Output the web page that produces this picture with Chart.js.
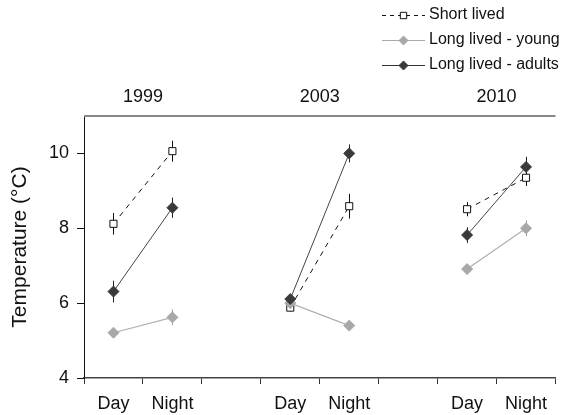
<!DOCTYPE html>
<html>
<head>
<meta charset="utf-8">
<script src="https://cdn.jsdelivr.net/npm/chart.js@4/dist/chart.umd.min.js"></script>
<style>
  html, body { margin: 0; padding: 0; background: #fff; }
  #wrap { width: 562px; height: 415px; }
</style>
</head>
<body>
<div id="wrap"><canvas id="c"></canvas></div>
<script>
// ---- data ----
const labels = ['Day', 'Night', '', 'Day', 'Night', '', 'Day', 'Night'];
const years = ['1999', '2003', '2010'];
const yTicks = [4, 6, 8, 10];

const shortLived = [8.12, 10.06, null, 5.88, 8.59, null, 8.51, 9.35];
const shortErr   = [0.29, 0.28, null, 0.10, 0.33, null, 0.19, 0.22];
const youngLived = [5.21, 5.62, null, 6.00, 5.40, null, 6.91, 8.00];
const youngErr   = [0.08, 0.21, null, 0.08, 0.08, null, 0.08, 0.21];
const adultLived = [6.31, 8.55, null, 6.11, 10.00, null, 7.82, 9.64];
const adultErr   = [0.29, 0.27, null, 0.12, 0.24, null, 0.21, 0.27];

const FONT = "'Liberation Sans', Arial, sans-serif";
Chart.defaults.font.family = FONT;
Chart.defaults.color = '#111';

// error bars, drawn under the markers
const errorBars = {
  id: 'errorBars',
  beforeDatasetsDraw(chart) {
    const { ctx, scales: { x, y } } = chart;
    ctx.save();
    chart.data.datasets.forEach((ds) => {
      ctx.strokeStyle = ds.errColor;
      ctx.lineWidth = 1;
      ds.data.forEach((v, i) => {
        if (v == null) return;
        const e = ds.err[i];
        const px = Math.round(x.getPixelForValue(i)) + 0.5;
        ctx.beginPath();
        ctx.moveTo(px, y.getPixelForValue(v - e));
        ctx.lineTo(px, y.getPixelForValue(v + e));
        ctx.stroke();
      });
    });
    ctx.restore();
  },
};

// top frame line, year headings and the legend
const decor = {
  id: 'decor',
  afterDraw(chart) {
    const { ctx, chartArea: a, scales: { x } } = chart;
    ctx.save();
    ctx.strokeStyle = '#888';
    ctx.lineWidth = 2;
    ctx.beginPath();
    ctx.moveTo(a.left, a.top);
    ctx.lineTo(a.right, a.top);
    ctx.stroke();

    ctx.fillStyle = '#111';
    ctx.font = '18px ' + FONT;
    ctx.textAlign = 'center';
    ctx.textBaseline = 'middle';
    years.forEach((yr, i) => {
      const cx = (x.getPixelForValue(i * 3) + x.getPixelForValue(i * 3 + 1)) / 2;
      ctx.fillText(yr, cx, a.top - 19);
    });

    // legend
    const rows = [
      { text: 'Short lived', dash: [4, 4], line: '#111', style: 'rect', r: 4.5, fill: '#fff', stroke: '#111' },
      { text: 'Long lived - young', dash: [], line: '#aaa', style: 'rectRot', r: 4.5, fill: '#a8a8a8', stroke: '#a8a8a8' },
      { text: 'Long lived - adults', dash: [], line: '#333', style: 'rectRot', r: 4.5, fill: '#3a3a3a', stroke: '#3a3a3a' },
    ];
    ctx.font = '16px ' + FONT;
    ctx.textAlign = 'left';
    rows.forEach((r, i) => {
      const ly = 15 + i * 25;
      ctx.strokeStyle = r.line;
      ctx.lineWidth = 1;
      ctx.setLineDash(r.dash);
      ctx.beginPath();
      ctx.moveTo(382, ly + 0.5);
      ctx.lineTo(425, ly + 0.5);
      ctx.stroke();
      ctx.setLineDash([]);
      ctx.fillStyle = r.fill;
      ctx.strokeStyle = r.stroke;
      Chart.helpers.drawPoint(ctx, { pointStyle: r.style, radius: r.r, borderWidth: 1, rotation: 0 }, 403.5, ly + 0.5);
      ctx.fillStyle = '#111';
      ctx.fillText(r.text, 429, ly);
    });
    ctx.restore();
  },
};

new Chart(document.getElementById('c'), {
  type: 'line',
  data: {
    labels,
    datasets: [
      {
        label: 'Short lived', data: shortLived, err: shortErr, errColor: '#111', order: 3,
        borderColor: '#111', borderWidth: 1, borderDash: [5, 5],
        pointStyle: 'rect', pointRadius: 5, pointBackgroundColor: '#fff', pointBorderColor: '#111', pointBorderWidth: 1,
      },
      {
        label: 'Long lived - young', data: youngLived, err: youngErr, errColor: '#999', order: 2,
        borderColor: '#b0b0b0', borderWidth: 1.2,
        pointStyle: 'rectRot', pointRadius: 5.5, pointBackgroundColor: '#a8a8a8', pointBorderColor: '#a8a8a8', pointBorderWidth: 1,
      },
      {
        label: 'Long lived - adults', data: adultLived, err: adultErr, errColor: '#222', order: 1,
        borderColor: '#444', borderWidth: 1,
        pointStyle: 'rectRot', pointRadius: 5.5, pointBackgroundColor: '#3a3a3a', pointBorderColor: '#3a3a3a', pointBorderWidth: 1,
      },
    ],
  },
  options: {
    responsive: true,
    maintainAspectRatio: false,
    animation: false,
    spanGaps: false,
    layout: { padding: { top: 116, left: 0, right: 0, bottom: 0 } },
    plugins: { legend: { display: false }, tooltip: { enabled: false } },
    scales: {
      x: {
        type: 'category',
        offset: true,
        afterFit: (s) => { s.height = 37; },
        grid: { offset: true, drawOnChartArea: false, tickLength: 6, color: '#333' },
        border: { color: '#444', width: 1.5 },
        ticks: { autoSkip: false, maxRotation: 0, padding: 9, font: { size: 18 }, color: '#111' },
      },
      y: {
        min: 4,
        max: 11,
        afterBuildTicks: (s) => { s.ticks = yTicks.map((v) => ({ value: v })); },
        afterFit: (s) => { s.width = 84; },
        grid: { drawOnChartArea: false, tickLength: 7, color: '#111' },
        border: { color: '#111', width: 1 },
        ticks: { padding: 8, font: { size: 18 }, color: '#111' },
        title: { display: true, text: 'Temperature (°C)', font: { size: 21 }, color: '#111', padding: { top: 8, bottom: 0 } },
      },
    },
  },
  plugins: [errorBars, decor],
});
</script>
</body>
</html>
